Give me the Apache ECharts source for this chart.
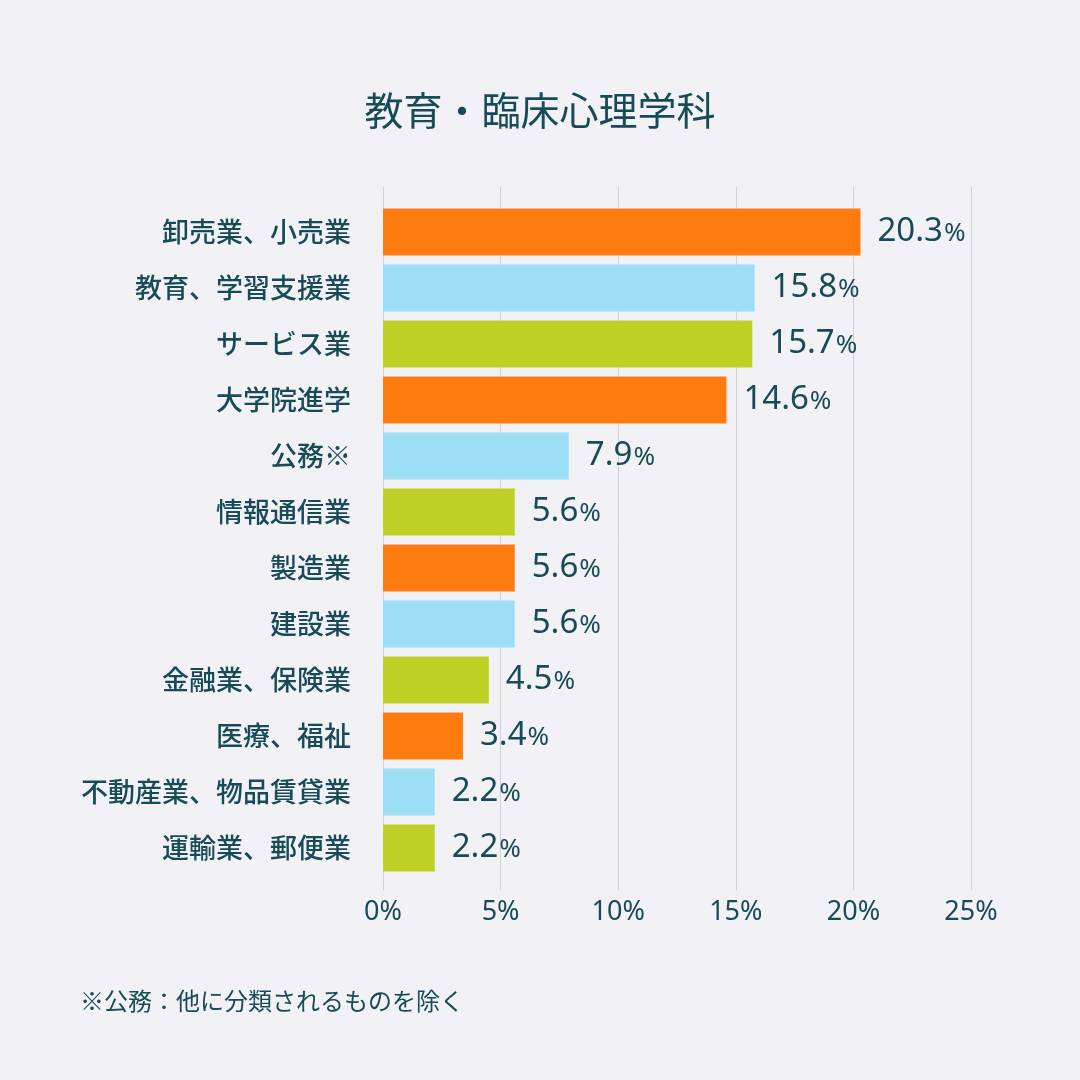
<!DOCTYPE html>
<html>
<head>
<meta charset="utf-8">
<script src="https://cdn.jsdelivr.net/npm/echarts@6/dist/echarts.min.js"></script>
<style>
html,body{margin:0;padding:0;background:#f1f1f6;}
#chart{width:1080px;height:1080px;}
</style>
</head>
<body>
<div id="chart"></div>
<script>
const titleText = '教育・臨床心理学科';
const footnote = '※公務：他に分類されるものを除く';
const categories = ['卸売業、小売業','教育、学習支援業','サービス業','大学院進学','公務※','情報通信業','製造業','建設業','金融業、保険業','医療、福祉','不動産業、物品賃貸業','運輸業、郵便業'];
const values = [20.3, 15.8, 15.7, 14.6, 7.9, 5.6, 5.6, 5.6, 4.5, 3.4, 2.2, 2.2];
const palette = ['#fe7b10', '#9ddff6', '#bed024'];
const axisMax = 25;
const axisInterval = 5;

const textColor = '#174b57';
const latin = "'Noto Sans', 'Noto Sans CJK JP', sans-serif";
const cjk = "'Noto Sans CJK JP', sans-serif";

const chart = echarts.init(document.getElementById('chart'), null, {renderer: 'canvas'});
chart.setOption({
  backgroundColor: '#f1f1f6',
  animation: false,
  title: [{
    text: titleText,
    left: 'center',
    top: 86,
    textStyle: {fontFamily: cjk, fontSize: 39, fontWeight: 400, color: textColor}
  }, {
    text: footnote,
    left: 75,
    top: 984,
    textStyle: {fontFamily: cjk, fontSize: 24, fontWeight: 400, color: textColor}
  }],
  grid: [
    {left: 383, right: 109, top: 204, height: 672},
    {left: 383, right: 109, top: 187, bottom: 190}
  ],
  xAxis: [
    {gridIndex: 0, type: 'value', min: 0, max: axisMax, show: false},
    {gridIndex: 1, type: 'value', min: 0, max: axisMax, interval: axisInterval,
     axisLine: {show: false}, axisTick: {show: false},
     splitLine: {show: true, lineStyle: {color: '#d2d2d6', width: 1}},
     axisLabel: {formatter: '{value}%', margin: 9, color: textColor, fontFamily: latin, fontSize: 27}}
  ],
  yAxis: [
    {gridIndex: 0, type: 'category', inverse: true, data: categories,
     axisLine: {show: false}, axisTick: {show: false},
     axisLabel: {margin: 32, color: textColor, fontFamily: cjk, fontSize: 27, fontWeight: 500}},
    {gridIndex: 1, type: 'value', min: 0, max: 1, show: false}
  ],
  series: [{
    type: 'bar',
    xAxisIndex: 0, yAxisIndex: 0,
    data: values.map((v, i) => ({value: v, itemStyle: {color: palette[i % 3]}})),
    barWidth: 47,
    label: {
      show: true,
      position: 'right',
      distance: 17,
      formatter: p => '{n|' + p.value.toFixed(1) + '}{p|%}',
      rich: {
        n: {fontFamily: latin, fontSize: 33, color: textColor},
        p: {fontFamily: latin, fontSize: 26, color: textColor, padding: [4, 0, 0, 1]}
      }
    }
  }]
});
</script>
</body>
</html>
